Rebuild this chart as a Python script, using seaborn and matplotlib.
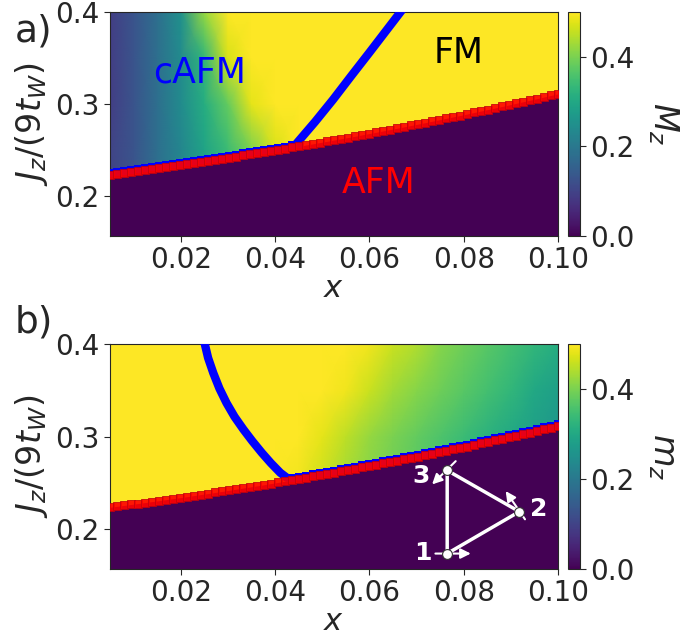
import numpy as np
import matplotlib
matplotlib.use("Agg")
import matplotlib.pyplot as plt
import matplotlib.transforms as mtransforms
import seaborn as sns

sns.set_style("ticks")
plt.rcParams['font.family'] = ['DejaVu Sans']
plt.rcParams['mathtext.fontset'] = 'dejavusans'

# x grid of the phase diagram (65 columns)
x_grid = np.linspace(0.005, 0.1, 65)

# AFM phase boundary J_z/(9t_W), one value per column
afm_boundary = [0.2237, 0.2247, 0.2257, 0.2267, 0.2277, 0.2288, 0.2298, 0.2308,
                0.2319, 0.2330, 0.2340, 0.2351, 0.2363, 0.2374, 0.2385, 0.2397,
                0.2408, 0.2420, 0.2432, 0.2444, 0.2456, 0.2468, 0.2480, 0.2493,
                0.2505, 0.2518, 0.2531, 0.2544, 0.2557, 0.2570, 0.2584, 0.2597,
                0.2611, 0.2625, 0.2638, 0.2652, 0.2667, 0.2681, 0.2695, 0.2710,
                0.2724, 0.2739, 0.2754, 0.2769, 0.2784, 0.2799, 0.2815, 0.2830,
                0.2846, 0.2862, 0.2877, 0.2893, 0.2910, 0.2926, 0.2942, 0.2959,
                0.2975, 0.2992, 0.3009, 0.3026, 0.3043, 0.3060, 0.3078, 0.3095,
                0.3113]

# nodes of the coarse m_z map
x_nodes = [0.005, 0.010, 0.015, 0.020, 0.025, 0.030, 0.035, 0.040, 0.045, 0.050,
           0.055, 0.060, 0.065, 0.070, 0.075, 0.080, 0.085, 0.090, 0.095, 0.100]
y_nodes = [0.155, 0.25, 0.30, 0.35, 0.40]

# panel a) M_z (cAFM gradient, FM saturated at 0.5)
Ma_025 = [0.10, 0.13, 0.18, 0.23, 0.29, 0.34, 0.40, 0.47, 0.50, 0.50,
          0.50, 0.50, 0.50, 0.50, 0.50, 0.50, 0.50, 0.50, 0.50, 0.50]
Ma_030 = [0.09, 0.13, 0.18, 0.24, 0.31, 0.38, 0.48, 0.50, 0.50, 0.50,
          0.50, 0.50, 0.50, 0.50, 0.50, 0.50, 0.50, 0.50, 0.50, 0.50]
Ma_035 = [0.09, 0.13, 0.18, 0.24, 0.33, 0.47, 0.50, 0.50, 0.50, 0.50,
          0.50, 0.50, 0.50, 0.50, 0.50, 0.50, 0.50, 0.50, 0.50, 0.50]
Ma_040 = [0.09, 0.13, 0.18, 0.25, 0.42, 0.50, 0.50, 0.50, 0.50, 0.50,
          0.50, 0.50, 0.50, 0.50, 0.50, 0.50, 0.50, 0.50, 0.50, 0.50]

# panel b) m_z
mb_025 = [0.50, 0.50, 0.50, 0.50, 0.50, 0.50, 0.50, 0.50, 0.49, 0.46,
          0.43, 0.41, 0.39, 0.37, 0.35, 0.33, 0.31, 0.29, 0.27, 0.25]
mb_030 = [0.50, 0.50, 0.50, 0.50, 0.50, 0.50, 0.50, 0.50, 0.50, 0.48,
          0.45, 0.42, 0.40, 0.38, 0.36, 0.34, 0.32, 0.30, 0.28, 0.26]
mb_035 = [0.50, 0.50, 0.50, 0.50, 0.50, 0.50, 0.50, 0.50, 0.50, 0.50,
          0.49, 0.46, 0.43, 0.41, 0.39, 0.37, 0.35, 0.33, 0.30, 0.28]
mb_040 = [0.50, 0.50, 0.50, 0.50, 0.50, 0.50, 0.50, 0.50, 0.50, 0.50,
          0.50, 0.49, 0.46, 0.44, 0.41, 0.39, 0.37, 0.35, 0.33, 0.31]

# blue transition lines
line_a_x = [0.0446, 0.0485, 0.0523, 0.0562, 0.0600, 0.0633, 0.0666, 0.0672]
line_a_y = [0.2577, 0.2810, 0.3050, 0.3310, 0.3560, 0.3780, 0.4000, 0.4040]
line_b_x = [0.0248, 0.0251, 0.0258, 0.0269, 0.0282, 0.0297, 0.0314, 0.0333,
            0.0352, 0.0372, 0.0391, 0.0411, 0.0425]
line_b_y = [0.4050, 0.4000, 0.3850, 0.3687, 0.3520, 0.3364, 0.3215, 0.3077,
            0.2950, 0.2825, 0.2715, 0.2610, 0.2556]

# triangle inset (sites 1, 2, 3)
site_x = [0.0765, 0.0918, 0.0765]
site_y = [0.1737, 0.2190, 0.2635]
site_labels = ['1', '2', '3']
label_x = [0.0714, 0.0960, 0.0710]
label_y = [0.1748, 0.2214, 0.2573]
spin_tail_x = [0.0740, 0.0930, 0.0783]
spin_tail_y = [0.1737, 0.2107, 0.2735]
spin_head_x = [0.0815, 0.0889, 0.0733]
spin_head_y = [0.1737, 0.2412, 0.2484]

fig = plt.figure(figsize=(6.95, 6.35), dpi=100)
ax_a = fig.add_axes([0.1583, 0.6283, 0.6446, 0.3528])
cax_a = fig.add_axes([0.8173, 0.6283, 0.0173, 0.3528])
ax_b = fig.add_axes([0.1583, 0.1039, 0.6446, 0.3543])
cax_b = fig.add_axes([0.8173, 0.1039, 0.0173, 0.3543])

purple = plt.cm.viridis(0.0)


def draw_panel(ax, cax, rows, blue_idx, line_x, line_y, clabel):
    field = np.array(rows)
    mesh = ax.pcolormesh(x_nodes, y_nodes, field, shading='gouraud',
                         cmap='viridis', vmin=0, vmax=0.5, zorder=1)
    ax.fill_between(x_grid, afm_boundary, 0.15, color=purple, lw=0, zorder=2)
    sns.lineplot(x=line_x, y=line_y, sort=False, estimator=None, color='blue',
                 lw=6, ax=ax, zorder=3, legend=False)
    shifted = mtransforms.offset_copy(ax.transData, fig=fig, y=2, units='dots')
    sns.scatterplot(x=x_grid[blue_idx], y=np.array(afm_boundary)[blue_idx],
                    marker='s', s=26, color='blue', linewidth=0, ax=ax,
                    zorder=4, transform=shifted, legend=False)
    sns.scatterplot(x=x_grid, y=afm_boundary, marker='s', s=26, color='red',
                    edgecolor=(0.75, 0, 0.05), linewidth=0.6, alpha=0.9, ax=ax,
                    zorder=5, legend=False)
    ax.set_xlim(0.005, 0.1)
    ax.set_ylim(0.157, 0.4)
    ax.set_xticks([0.02, 0.04, 0.06, 0.08, 0.10])
    ax.set_yticks([0.2, 0.3, 0.4])
    ax.tick_params(labelsize=20, length=4)
    ax.set_xlabel('$x$', fontsize=22, labelpad=0)
    ax.set_ylabel('$J_z/(9t_W)$', fontsize=24, labelpad=4)
    cbar = fig.colorbar(mesh, cax=cax, ticks=[0.0, 0.2, 0.4])
    cbar.ax.tick_params(labelsize=20, length=4)
    cbar.set_label(clabel, rotation=270, fontsize=24, labelpad=8, va='bottom')
    return cbar


draw_panel(ax_a, cax_a, [Ma_025, Ma_025, Ma_030, Ma_035, Ma_040],
           slice(0, 28), line_a_x, line_a_y, '$M_z$')
draw_panel(ax_b, cax_b, [mb_025, mb_025, mb_030, mb_035, mb_040],
           slice(26, 65), line_b_x, line_b_y, '$m_z$')

# phase names
ax_a.text(0.024, 0.334, 'cAFM', color='blue', fontsize=25, ha='center', va='center', zorder=6)
ax_a.text(0.0789, 0.3556, 'FM', color='black', fontsize=25, ha='center', va='center', zorder=6)
ax_a.text(0.0619, 0.2147, 'AFM', color='red', fontsize=25, ha='center', va='center', zorder=6)

# triangle with spins
tri = [0, 1, 2, 0]
ax_b.plot([site_x[i] for i in tri], [site_y[i] for i in tri], color='white',
          lw=2.5, zorder=6)
for tx, ty, hx, hy in zip(spin_tail_x, spin_tail_y, spin_head_x, spin_head_y):
    ax_b.annotate('', xy=(hx, hy), xytext=(tx, ty), zorder=7,
                  arrowprops=dict(arrowstyle='-|>', color='white', lw=1.5,
                                  mutation_scale=15, shrinkA=0, shrinkB=0))
ax_b.scatter(site_x, site_y, s=50, color='white', edgecolor='#333333',
             linewidth=0.8, zorder=8)
for lx, ly, lab in zip(label_x, label_y, site_labels):
    ax_b.text(lx, ly, lab, color='white', fontsize=18, fontweight='bold',
              ha='center', va='center', zorder=8)

fig.text(0.0216, 0.951, 'a)', fontsize=27, ha='left', va='center')
fig.text(0.0216, 0.492, 'b)', fontsize=27, ha='left', va='center')

fig.savefig('out.png', dpi=100)
